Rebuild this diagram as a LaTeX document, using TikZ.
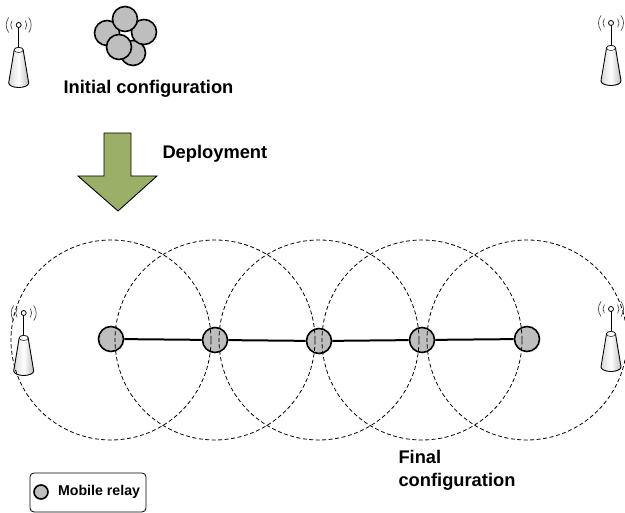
\documentclass[tikz,border=0pt]{standalone}
\usepackage{fontspec}
\setmainfont{Liberation Sans}
\usepackage{xcolor}
\definecolor{relaygray}{RGB}{190,190,190}
\definecolor{arrowgreen}{RGB}{155,175,105}
\tikzset{
  relay/.style={circle,draw=black,line width=1.6pt,fill=relaygray,inner sep=0pt,minimum size=25pt},
  coverage/.style={circle,draw=black,dash pattern=on 4pt off 2.5pt,line width=0.8pt,inner sep=0pt,minimum size=200pt},
  caption/.style={font=\bfseries\fontsize{18.3}{23}\selectfont,align=left},
  tower/.pic={
    \draw[line width=0.8pt] (0,0) circle (2.5);
    \draw[line width=0.8pt] (0,-2.5) -- (0,-22);
    \draw[black!70,line width=0.7pt] (-6.6,4.5) arc (146:214:8);
    \draw[black!70,line width=0.7pt] (6.6,4.5) arc (34:-34:8);
    \draw[black!70,line width=0.7pt] (-10,7.5) arc (143:217:12.5);
    \draw[black!70,line width=0.7pt] (10,7.5) arc (37:-37:12.5);
    \draw[line width=0.9pt,left color=gray!30,right color=gray!50,middle color=white] (-4.5,-25) -- (-10,-58) arc (180:360:10 and 4.5) -- (4.5,-25) arc (0:180:4.5 and 2.5);
    \draw[line width=0.5pt,fill=white] (0,-25) ellipse (4.5 and 2.5);
  }
}
\begin{document}
\begin{tikzpicture}[x=1pt,y=1pt]
\useasboundingbox (0,0) rectangle (625,513);
\pic at (18.7,488) {tower};
\pic at (611,490) {tower};
\pic at (23.7,200) {tower};
\pic at (611,204) {tower};
\node[relay] (init1) at (107,480) {};
\node[relay] (init2) at (133,460) {};
\node[relay] (init3) at (144,481) {};
\node[relay] (init4) at (125,494) {};
\node[relay] (init5) at (119,466) {};
\node[caption] (initial) at (148.5,424) {Initial configuration};
\draw[line width=0.9pt,fill=arrowgreen] (104,380) -- (131,380) -- (131,337) -- (157,337) -- (118,302) -- (78,337) -- (104,337) -- cycle;
\node[caption,right] (deploy) at (159,359.5) {Deployment};
\node[relay] (r1) at (111,174) {};
\node[relay] (r2) at (215,173) {};
\node[relay] (r3) at (319,172) {};
\node[relay] (r4) at (422,173) {};
\node[relay] (r5) at (527,174) {};
\draw[line width=2pt] (r1) -- (r2);
\draw[line width=2pt] (r2) -- (r3);
\draw[line width=2pt] (r3) -- (r4);
\draw[line width=2pt] (r4) -- (r5);
\node[coverage] (c1) at (111,173) {};
\node[coverage] (c2) at (215,173) {};
\node[coverage] (c3) at (319,173) {};
\node[coverage] (c4) at (422,173) {};
\node[coverage] (c5) at (527,173) {};
\node[caption,right] (final) at (395,43) {Final\\configuration};
\node[draw=black,rounded corners=4pt,line width=0.8pt,minimum width=116pt,minimum height=39pt] (legend) at (88,20.5) {};
\node[relay,minimum size=14pt] (key) at (41,21) {};
\node[right,font=\bfseries\fontsize{14.2}{17}\selectfont] (keytext) at (54.5,21.5) {Mobile relay};
\end{tikzpicture}
\end{document}
